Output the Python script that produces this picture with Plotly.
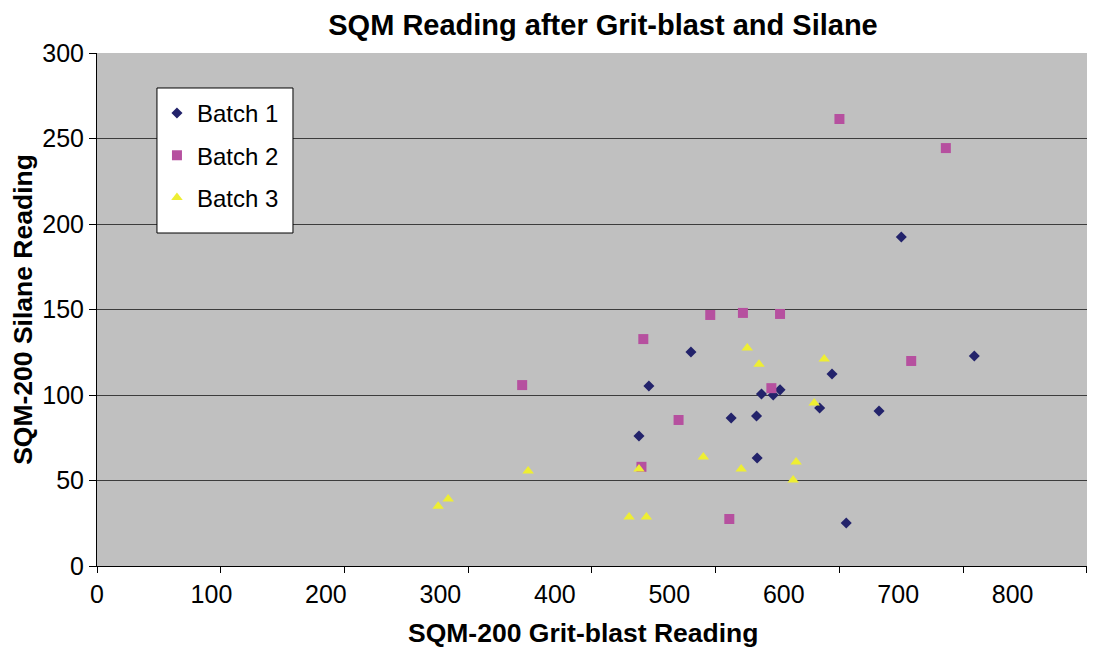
import plotly.graph_objects as go

# ---- data ----
batch1_x = [650, 709, 594, 632, 584, 605.5, 480, 446, 537, 546.5, 552, 512.5, 533, 438, 533.5]
batch1_y = [192.4, 122.8, 112.3, 90.6, 92.4, 25.1, 125.1, 105.3, 100.6, 100, 103, 86.5, 87.7, 76, 63.2]

batch2_x = [600, 686, 658, 495.6, 522, 552, 441.5, 545, 470, 440, 511, 343.6]
batch2_y = [261.4, 244.4, 119.9, 146.8, 148, 147.4, 132.7, 104, 85.4, 58, 27.5, 105.8]

batch3_x = [275.7, 283.8, 348.4, 430, 444, 438, 490, 520.6, 565, 562.6, 525.5, 535, 587.7, 579.6]
batch3_y = [35, 39.2, 55.6, 28.7, 28.7, 56.7, 63.8, 56.7, 60.8, 50.3, 127.5, 118, 121, 95.3]

x_tick_values = [0, 100, 200, 300, 400, 500, 600, 700, 800]
x_tick_labels = ["0", "100", "200", "300", "400", "500", "600", "700", "800"]
y_tick_values = [0, 50, 100, 150, 200, 250, 300]

# In the reference the x tick labels are drawn slightly compressed relative to the tick marks
label_scale = 0.925

FONT = "Liberation Sans, Arial, sans-serif"

fig = go.Figure()
fig.add_trace(go.Scatter(x=batch1_x, y=batch1_y, mode="markers", name="Batch 1",
                         legendgroup="g1",
                         marker=dict(symbol="diamond", size=8.5, color="#23236B", line=dict(width=0))))
fig.add_trace(go.Scatter(x=batch2_x, y=batch2_y, mode="markers", name="Batch 2",
                         legendgroup="g2",
                         marker=dict(symbol="square", size=10, color="#B6509F", line=dict(width=0))))
fig.add_trace(go.Scatter(x=batch3_x, y=batch3_y, mode="markers", name="Batch 3",
                         legendgroup="g3",
                         marker=dict(symbol="triangle-up", size=10, color="#EEEE33", line=dict(width=0))))
# empty helper trace so that the label axis is drawn
fig.add_trace(go.Scatter(x=[], y=[], xaxis="x2", showlegend=False, hoverinfo="skip"))

xr = [0, 813]
fig.update_layout(
    width=1095, height=657,
    margin=dict(l=89, r=0, t=45, b=99, autoexpand=False),
    paper_bgcolor="white",
    plot_bgcolor="#C0C0C0",
    font=dict(family=FONT, size=24, color="black"),
    title=dict(text="<b>SQM Reading after Grit-blast and Silane</b>",
               xref="container", yref="container", x=0.5434, y=0.9749,
               xanchor="center", yanchor="middle", pad=dict(t=0, b=0, l=0, r=0),
               font=dict(family=FONT, size=29, color="black")),
    xaxis=dict(range=xr, tickvals=x_tick_values, showticklabels=False,
               ticks="outside", ticklen=6, tickcolor="black", tickwidth=1,
               showline=True, linecolor="black", linewidth=1, automargin=False,
               showgrid=False, zeroline=False, fixedrange=True),
    xaxis2=dict(overlaying="x", anchor="y", side="bottom", range=xr,
                tickvals=[v * label_scale for v in x_tick_values], ticktext=x_tick_labels,
                ticks="outside", ticklen=6, tickcolor="rgba(0,0,0,0)",
                tickfont=dict(size=25), automargin=False,
                showline=False, showgrid=False, zeroline=False),
    yaxis=dict(range=[0, 300], tickvals=y_tick_values,
               ticks="outside", ticklen=7, tickcolor="black", tickwidth=1,
               tickfont=dict(size=25), automargin=False,
               showline=True, linecolor="black", linewidth=1,
               showgrid=True, gridcolor="#3c3c3c", gridwidth=1.3,
               zeroline=False, fixedrange=True,
               title=dict(text="<b>SQM-200 Silane Reading</b>", font=dict(size=26.5), standoff=8)),
    legend=dict(x=0.0596, y=0.926, xanchor="left", yanchor="top",
                bgcolor="rgba(0,0,0,0)", borderwidth=0,
                font=dict(size=24), traceorder="grouped", tracegroupgap=8),
    shapes=[dict(type="rect", xref="paper", yref="paper",
                 x0=0.0596, x1=0.1948, y0=0.6491, y1=0.9318,
                 fillcolor="white", line=dict(color="black", width=1), layer="above")],
    annotations=[dict(text="<b>SQM-200 Grit-blast Reading</b>", xref="paper", yref="paper",
                      x=0.483, y=-0.1306, xanchor="center", yanchor="middle",
                      showarrow=False, font=dict(size=26.5))],
    showlegend=True,
)

fig.write_html("out.html")
